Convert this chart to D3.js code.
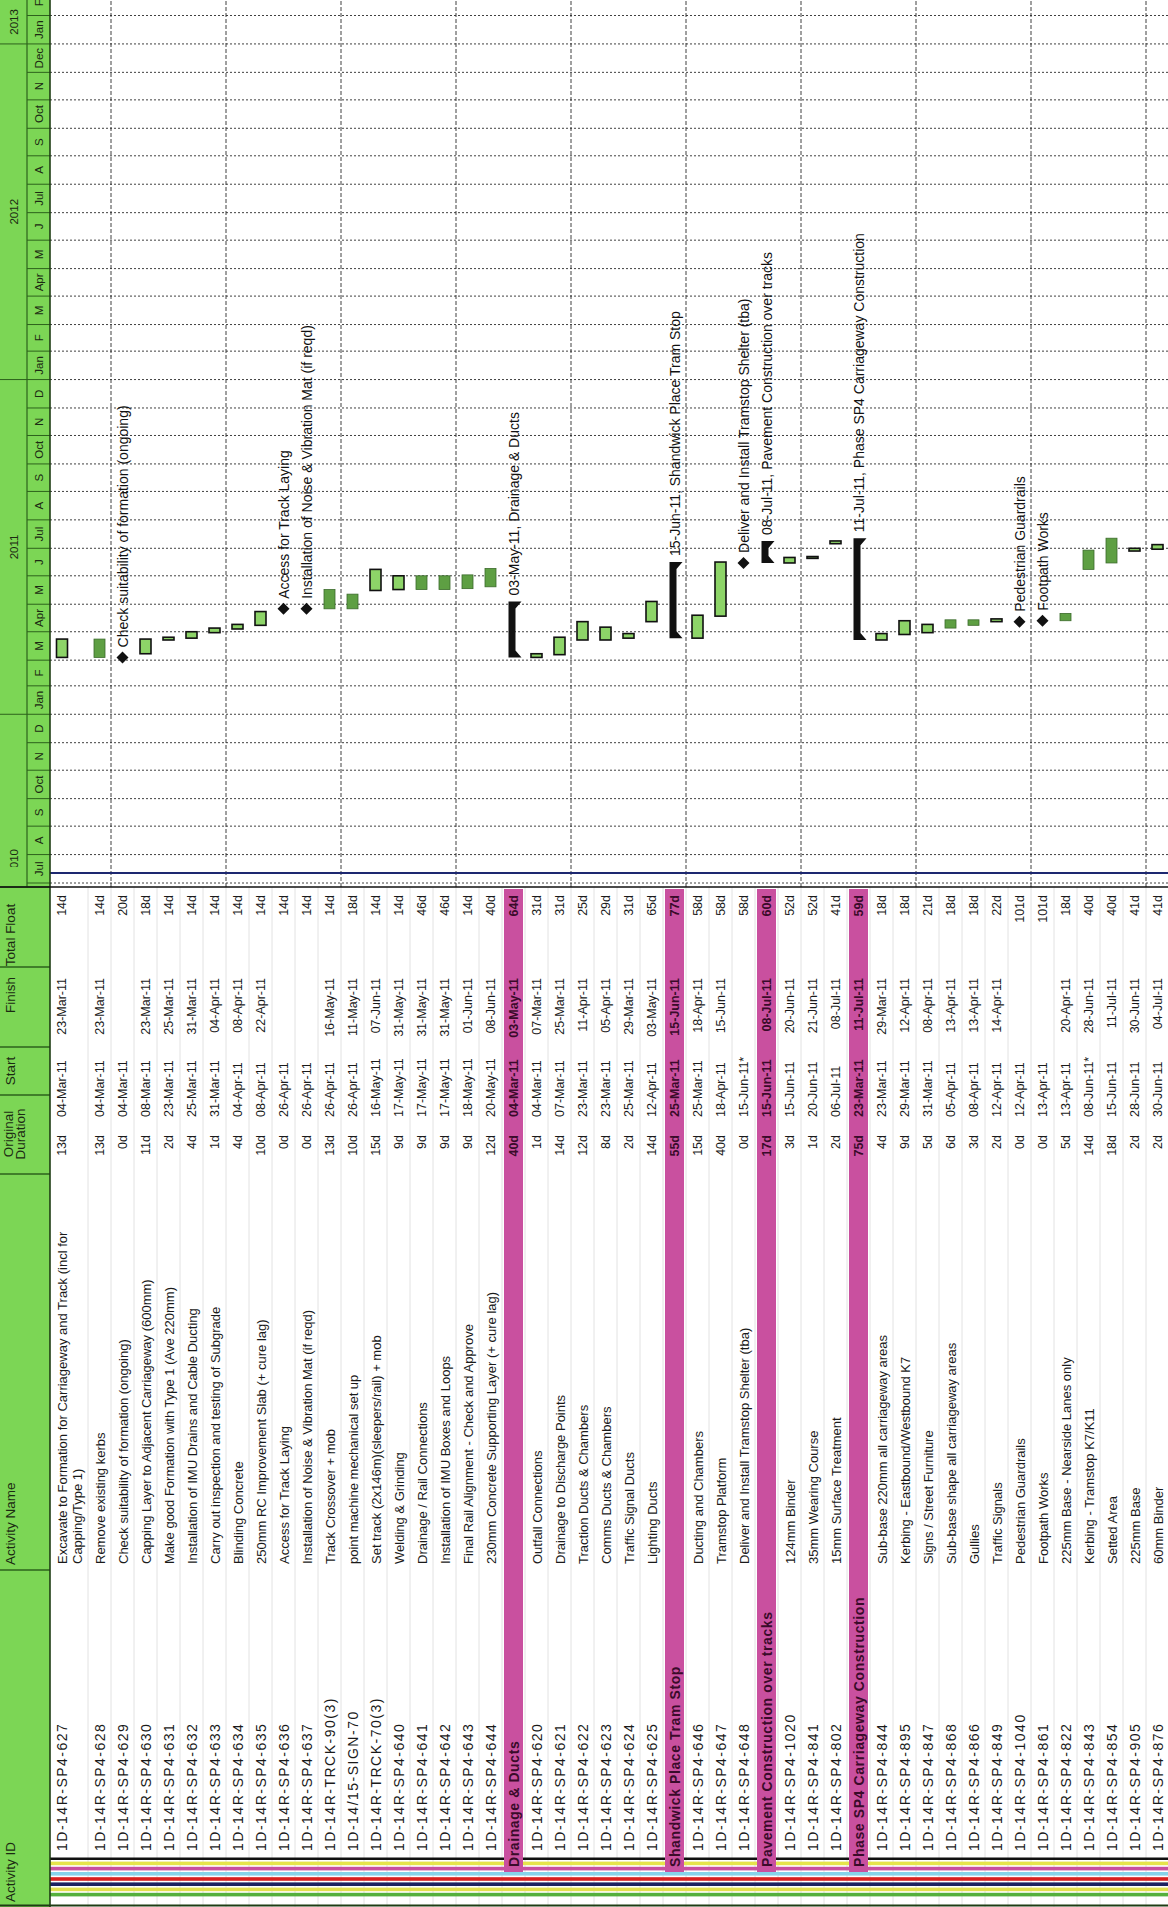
<!DOCTYPE html>
<html>
<head>
<meta charset="utf-8">
<script src="https://cdn.jsdelivr.net/npm/d3@7"></script>
<style>
  html, body { margin: 0; padding: 0; background: #fff; }
  svg { display: block; font-family: "Liberation Sans", Arial, sans-serif; }
</style>
</head>
<body>
<div id="chart"></div>
<script>
const ids = ['1D-14R-SP4-627','1D-14R-SP4-628','1D-14R-SP4-629','1D-14R-SP4-630','1D-14R-SP4-631','1D-14R-SP4-632','1D-14R-SP4-633','1D-14R-SP4-634','1D-14R-SP4-635','1D-14R-SP4-636','1D-14R-SP4-637','1D-14R-TRCK-90(3)','1D-14/15-SIGN-70','1D-14R-TRCK-70(3)','1D-14R-SP4-640','1D-14R-SP4-641','1D-14R-SP4-642','1D-14R-SP4-643','1D-14R-SP4-644','','1D-14R-SP4-620','1D-14R-SP4-621','1D-14R-SP4-622','1D-14R-SP4-623','1D-14R-SP4-624','1D-14R-SP4-625','','1D-14R-SP4-646','1D-14R-SP4-647','1D-14R-SP4-648','','1D-14R-SP4-1020','1D-14R-SP4-841','1D-14R-SP4-802','','1D-14R-SP4-844','1D-14R-SP4-895','1D-14R-SP4-847','1D-14R-SP4-868','1D-14R-SP4-866','1D-14R-SP4-849','1D-14R-SP4-1040','1D-14R-SP4-861','1D-14R-SP4-822','1D-14R-SP4-843','1D-14R-SP4-854','1D-14R-SP4-905','1D-14R-SP4-876'];

const names = ['Excavate to Formation for Carriageway and Track (incl for\nCapping/Type 1)','Remove existing kerbs','Check suitability of formation (ongoing)','Capping Layer to Adjacent Carriageway (600mm)','Make good Formation with Type 1 (Ave 220mm)','Installation of IMU Drains and Cable Ducting','Carry out inspection and testing of Subgrade','Blinding Concrete','250mm RC Improvement Slab (+ cure lag)','Access for Track Laying','Installation of Noise & Vibration Mat (if reqd)','Track Crossover + mob','point machine mechanical set up','Set track (2x146m)(sleepers/rail) + mob','Welding & Grinding','Drainage / Rail Connections','Installation of IMU Boxes and Loops','Final Rail Alignment - Check and Approve','230mm Concrete Supporting Layer (+ cure lag)','Drainage & Ducts','Outfall Connections','Drainage to Discharge Points','Traction Ducts & Chambers','Comms Ducts & Chambers','Traffic Signal Ducts','Lighting Ducts','Shandwick Place Tram Stop','Ducting and Chambers','Tramstop Platform','Deliver and Install Tramstop Shelter (tba)','Pavement Construction over tracks','124mm Binder','35mm Wearing Course','15mm Surface Treatment','Phase SP4 Carriageway Construction','Sub-base 220mm all carriageway areas','Kerbing - Eastbound/Westbound K7','Signs / Street Furniture','Sub-base shape all carriageway areas','Gullies','Traffic Signals','Pedestrian Guardrails','Footpath Works','225mm Base - Nearside Lanes only','Kerbing - Tramstop K7/K11','Setted Area','225mm Base','60mm Binder'];

const durations = ['13d','13d','0d','11d','2d','4d','1d','4d','10d','0d','0d','13d','10d','15d','9d','9d','9d','9d','12d','40d','1d','14d','12d','8d','2d','14d','55d','15d','40d','0d','17d','3d','1d','2d','75d','4d','9d','5d','6d','3d','2d','0d','0d','5d','14d','18d','2d','2d'];

const starts = ['04-Mar-11','04-Mar-11','04-Mar-11','08-Mar-11','23-Mar-11','25-Mar-11','31-Mar-11','04-Apr-11','08-Apr-11','26-Apr-11','26-Apr-11','26-Apr-11','26-Apr-11','16-May-11','17-May-11','17-May-11','17-May-11','18-May-11','20-May-11','04-Mar-11','04-Mar-11','07-Mar-11','23-Mar-11','23-Mar-11','25-Mar-11','12-Apr-11','25-Mar-11','25-Mar-11','18-Apr-11','15-Jun-11*','15-Jun-11','15-Jun-11','20-Jun-11','06-Jul-11','23-Mar-11','23-Mar-11','29-Mar-11','31-Mar-11','05-Apr-11','08-Apr-11','12-Apr-11','12-Apr-11','13-Apr-11','13-Apr-11','08-Jun-11*','15-Jun-11','28-Jun-11','30-Jun-11'];

const finishes = ['23-Mar-11','23-Mar-11','','23-Mar-11','25-Mar-11','31-Mar-11','04-Apr-11','08-Apr-11','22-Apr-11','','','16-May-11','11-May-11','07-Jun-11','31-May-11','31-May-11','31-May-11','01-Jun-11','08-Jun-11','03-May-11','07-Mar-11','25-Mar-11','11-Apr-11','05-Apr-11','29-Mar-11','03-May-11','15-Jun-11','18-Apr-11','15-Jun-11','','08-Jul-11','20-Jun-11','21-Jun-11','08-Jul-11','11-Jul-11','29-Mar-11','12-Apr-11','08-Apr-11','13-Apr-11','13-Apr-11','14-Apr-11','','','20-Apr-11','28-Jun-11','11-Jul-11','30-Jun-11','04-Jul-11'];

const floats = ['14d','14d','20d','18d','14d','14d','14d','14d','14d','14d','14d','14d','18d','14d','14d','46d','46d','14d','40d','64d','31d','31d','25d','29d','31d','65d','77d','58d','58d','58d','60d','52d','52d','41d','59d','18d','18d','21d','18d','18d','22d','101d','101d','18d','40d','40d','41d','41d'];

const kinds = ['task','task','milestone','task','task','task','task','task','task','milestone','milestone','task','task','task','task','task','task','task','task','group','task','task','task','task','task','task','group','task','task','milestone','group','task','task','task','group','task','task','task','task','task','task','milestone','milestone','task','task','task','task','task'];

const criticalIds = ['1D-14R-SP4-627','1D-14R-SP4-630','1D-14R-SP4-631','1D-14R-SP4-632','1D-14R-SP4-633','1D-14R-SP4-634','1D-14R-SP4-635','1D-14R-TRCK-70(3)','1D-14R-SP4-640','1D-14R-SP4-620','1D-14R-SP4-621','1D-14R-SP4-622','1D-14R-SP4-623','1D-14R-SP4-624','1D-14R-SP4-625','1D-14R-SP4-646','1D-14R-SP4-647','1D-14R-SP4-1020','1D-14R-SP4-841','1D-14R-SP4-802','1D-14R-SP4-844','1D-14R-SP4-895','1D-14R-SP4-847','1D-14R-SP4-849','1D-14R-SP4-905','1D-14R-SP4-876'];

const columnTitles = ['Activity ID', 'Activity Name', 'Original\nDuration', 'Start', 'Finish', 'Total Float'];
const monthLabels = ['Jul','A','S','Oct','N','D','Jan','F','M','Apr','M','J','Jul','A','S','Oct','N','D','Jan','F','M','Apr','M','J','Jul','A','S','Oct','N','Dec','Jan','F'];
const yearLabels = ['2010','2011','2012','2013'];
const bandColors = ['#111111','#e6e44c','#c9509f','#86d4ea','#d8211f','#1c2160','#e3e04e','#55b03c'];

const parseDate = d3.timeParse('%d-%b-%y');
const day = 864e5;

// drawn in the original landscape frame, then turned a quarter left
const pageW = 1168, pageH = 1907;
const headH = 50, yearH = 27;
const tableEnd = 1020;
const colEdges = [0, 337, 733, 812, 860, 940, tableEnd];

const x = d3.scaleTime()
  .domain([new Date(2010, 6, 1), new Date(2013, 1, 1)])
  .range([1024, 1891.5]);

const rowScale = d3.scaleLinear()
  .domain([1, ids.length])
  .range([88, 88 + (ids.length - 1) * 23]);
const rowTop = i => i === 0 ? headH : rowScale(i);
const rowH = i => i === 0 ? 88 - headH : 23;
const rowMid = i => i === 0 ? 62 : rowTop(i) + rowH(i) / 2;

const rows = ids.map((id, i) => ({
  i, id, name: names[i], dur: durations[i], start: starts[i], finish: finishes[i],
  float: floats[i], kind: kinds[i], critical: criticalIds.includes(id),
  s: parseDate(starts[i].slice(0, 9)),
  f: finishes[i] ? parseDate(finishes[i]) : null
}));

const svg = d3.select('#chart').append('svg')
  .attr('width', pageW)
  .attr('height', pageH);

const g = svg.append('g')
  .attr('transform', `translate(0,${pageH}) rotate(-90)`);

const defs = svg.append('defs');
defs.append('clipPath').attr('id', 'tl-clip')
  .append('rect').attr('x', tableEnd).attr('y', 0).attr('width', pageH - tableEnd).attr('height', pageW);
defs.append('clipPath').attr('id', 'yr-clip')
  .append('rect').attr('x', 1040).attr('y', 0).attr('width', pageH - 1040).attr('height', yearH);

// ---- table body ----
const body = g.append('g');

body.selectAll('line.rowsep')
  .data(d3.range(1, ids.length))
  .enter().append('line')
  .attr('x1', 0).attr('x2', tableEnd)
  .attr('y1', i => rowTop(i)).attr('y2', i => rowTop(i))
  .attr('stroke', '#dadada').attr('stroke-width', 0.8);

const stripe = (sel, list) => sel.selectAll(null)
  .data(list)
  .enter().append('rect')
  .attr('x', d => 47 - d.k * 5.2)
  .attr('y', headH)
  .attr('width', d => d.k === 0 ? 2.5 : 3.6)
  .attr('height', pageW - headH)
  .attr('fill', d => d.c);

const bands = bandColors.map((c, k) => ({ c, k }));
stripe(body.append('g'), bands.filter(d => d.k < 3));

const groups = rows.filter(d => d.kind === 'group');

body.selectAll('rect.grp')
  .data(groups)
  .enter().append('rect')
  .attr('x', 33)
  .attr('y', d => rowTop(d.i) + 2)
  .attr('width', tableEnd - 35)
  .attr('height', d => rowH(d.i) - 4)
  .attr('fill', '#c9509f');

stripe(body.append('g'), bands.filter(d => d.k >= 3));

const cell = (sel, fn, u, anchor) => sel.append('text')
  .attr('x', u)
  .attr('y', d => rowMid(d.i))
  .attr('text-anchor', anchor)
  .attr('dominant-baseline', 'central')
  .attr('font-size', 12.5)
  .attr('fill', d => d.kind === 'group' ? '#3a0b2a' : '#1a1a1a')
  .attr('font-weight', d => d.kind === 'group' ? 'bold' : 'normal')
  .text(fn);

const rowText = body.selectAll('g.row')
  .data(rows)
  .enter().append('g');

cell(rowText, d => d.kind === 'group' ? d.name : d.id, 0, 'start')
  .attr('x', d => d.kind === 'group' ? 40 : 56)
  .attr('font-size', 14)
  .attr('letter-spacing', d => d.kind === 'group' ? 0.6 : 1.5);

rowText.filter(d => d.kind !== 'group')
  .append('text')
  .attr('font-size', 13)
  .attr('fill', '#1a1a1a')
  .attr('dominant-baseline', 'central')
  .selectAll('tspan')
  .data(d => d.name.split('\n').map((t, k) => ({ t, k, i: d.i })))
  .enter().append('tspan')
  .attr('x', 343)
  .attr('y', l => rowMid(l.i) + l.k * 15)
  .text(l => l.t);

cell(rowText, d => d.dur, 772, 'end');
cell(rowText, d => d.start, 790, 'start');
cell(rowText, d => d.finish, 929, 'end');
cell(rowText, d => d.float, 1012, 'end');

// ---- timeline ----
const tl = g.append('g').attr('clip-path', 'url(#tl-clip)');
const months = d3.timeMonth.range(new Date(2010, 6, 1), new Date(2013, 2, 1));

tl.selectAll('line.mgrid')
  .data(months)
  .enter().append('line')
  .attr('x1', d => x(d)).attr('x2', d => x(d))
  .attr('y1', headH).attr('y2', pageW)
  .attr('stroke', '#2a2a2a').attr('stroke-width', 0.9)
  .attr('stroke-dasharray', '2,2');

tl.selectAll('line.sight')
  .data(d3.range(2, ids.length, 5))
  .enter().append('line')
  .attr('x1', tableEnd).attr('x2', pageH)
  .attr('y1', i => rowTop(i)).attr('y2', i => rowTop(i))
  .attr('stroke', '#2a2a2a').attr('stroke-width', 0.9)
  .attr('stroke-dasharray', '4,2');

tl.append('line')
  .attr('x1', 1034).attr('x2', 1034)
  .attr('y1', headH).attr('y2', pageW)
  .attr('stroke', '#1d2870').attr('stroke-width', 2);

const tasks = rows.filter(d => d.kind === 'task');
tl.selectAll('rect.bar')
  .data(tasks)
  .enter().append('rect')
  .attr('x', d => x(d.s))
  .attr('y', d => rowMid(d.i) - 5.5)
  .attr('width', d => Math.max(1.5, x(new Date(+d.f + day)) - x(d.s)))
  .attr('height', 11)
  .attr('fill', d => d.critical ? '#8dd468' : '#5e9f43')
  .attr('stroke', d => d.critical ? '#111' : '#3b6a2b')
  .attr('stroke-width', d => d.critical ? 1.6 : 0.8);

const miles = rows.filter(d => d.kind === 'milestone');
tl.selectAll('path.mile')
  .data(miles)
  .enter().append('path')
  .attr('d', d => {
    const u = x(d.s), v = rowMid(d.i), r = 6;
    return `M${u - r},${v}L${u},${v - r}L${u + r},${v}L${u},${v + r}Z`;
  })
  .attr('fill', '#111');

tl.selectAll('text.mile')
  .data(miles)
  .enter().append('text')
  .attr('x', d => x(d.s) + 10)
  .attr('y', d => rowMid(d.i))
  .attr('dominant-baseline', 'central')
  .attr('font-size', 14)
  .attr('fill', '#111')
  .text(d => d.name);

const sums = tl.selectAll('g.sum')
  .data(groups)
  .enter().append('g');

sums.append('path')
  .attr('d', d => {
    const u0 = x(d.s), u1 = x(new Date(+d.f + day));
    const top = rowMid(d.i) - 5, bot = rowMid(d.i) + 2;
    return `M${u0},${top}L${u1},${top}L${u1},${bot + 6}L${u1 - 7},${bot}L${u0 + 7},${bot}L${u0},${bot + 6}Z`;
  })
  .attr('fill', '#111');

sums.append('text')
  .attr('x', d => x(new Date(+d.f + day)) + 6)
  .attr('y', d => rowMid(d.i))
  .attr('dominant-baseline', 'central')
  .attr('font-size', 14)
  .attr('fill', '#111')
  .text(d => `${d.finish}, ${d.name}`);

// ---- header ----
const head = g.append('g');
head.append('rect')
  .attr('x', 0).attr('y', 0).attr('width', pageH).attr('height', headH)
  .attr('fill', '#7cd655');

head.selectAll('line.col')
  .data(colEdges.slice(1))
  .enter().append('line')
  .attr('x1', u => u).attr('x2', u => u)
  .attr('y1', 0).attr('y2', headH)
  .attr('stroke', '#2d621c').attr('stroke-width', 1.4);

const titleU = [5, 342, 773, 836, 912, 972];
head.selectAll('text.col')
  .data(columnTitles)
  .enter().append('text')
  .attr('font-size', 13.5)
  .attr('fill', '#1b2a12')
  .attr('text-anchor', (t, k) => k < 2 ? 'start' : 'middle')
  .selectAll('tspan')
  .data((t, k) => t.split('\n').map((l, j, all) => ({ l, u: titleU[k], v: all.length > 1 ? 8 + j * 12 : 10 })))
  .enter().append('tspan')
  .attr('x', d => d.u)
  .attr('y', d => d.v)
  .attr('dominant-baseline', 'central')
  .text(d => d.l);

const th = head.append('g').attr('clip-path', 'url(#tl-clip)');

th.append('line')
  .attr('x1', tableEnd).attr('x2', pageH)
  .attr('y1', yearH).attr('y2', yearH)
  .attr('stroke', '#2d621c').attr('stroke-width', 1.2);

th.selectAll('line.mcell')
  .data(months)
  .enter().append('line')
  .attr('x1', d => x(d)).attr('x2', d => x(d))
  .attr('y1', yearH).attr('y2', headH)
  .attr('stroke', '#2d621c').attr('stroke-width', 1);

th.selectAll('text.month')
  .data(months)
  .enter().append('text')
  .attr('x', d => (x(d) + x(d3.timeMonth.offset(d, 1))) / 2)
  .attr('y', (yearH + headH) / 2)
  .attr('text-anchor', 'middle')
  .attr('dominant-baseline', 'central')
  .attr('font-size', 11.5)
  .attr('fill', '#1b2a12')
  .text((d, k) => monthLabels[k]);

const yearStarts = yearLabels.map(y => new Date(+y, 0, 1));
th.selectAll('line.ycell')
  .data(yearStarts.slice(1))
  .enter().append('line')
  .attr('x1', d => x(d)).attr('x2', d => x(d))
  .attr('y1', 0).attr('y2', yearH)
  .attr('stroke', '#2d621c').attr('stroke-width', 1);

th.selectAll('text.year')
  .data(yearLabels)
  .enter().append('text')
  .attr('x', (y, k) => {
    if (k === 0) return 1058;
    const a = x(yearStarts[k]);
    const b = Math.min(pageH, x(new Date(+y + 1, 0, 1)));
    return (a + b) / 2;
  })
  .attr('y', yearH / 2)
  .attr('text-anchor', (y, k) => k === 0 ? 'end' : 'middle')
  .attr('dominant-baseline', 'central')
  .attr('font-size', 11.5)
  .attr('fill', '#1b2a12')
  .attr('clip-path', (y, k) => k === 0 ? 'url(#yr-clip)' : null)
  .text(y => y);

// frame lines
g.append('line')
  .attr('x1', 0).attr('x2', pageH).attr('y1', headH).attr('y2', headH)
  .attr('stroke', '#1f3d14').attr('stroke-width', 1.6);
g.append('line')
  .attr('x1', tableEnd).attr('x2', tableEnd).attr('y1', 0).attr('y2', pageW)
  .attr('stroke', '#111').attr('stroke-width', 1.6);
g.append('line')
  .attr('x1', 1.5).attr('x2', 1.5).attr('y1', 0).attr('y2', pageW)
  .attr('stroke', '#1f3d14').attr('stroke-width', 2);
</script>
</body>
</html>
